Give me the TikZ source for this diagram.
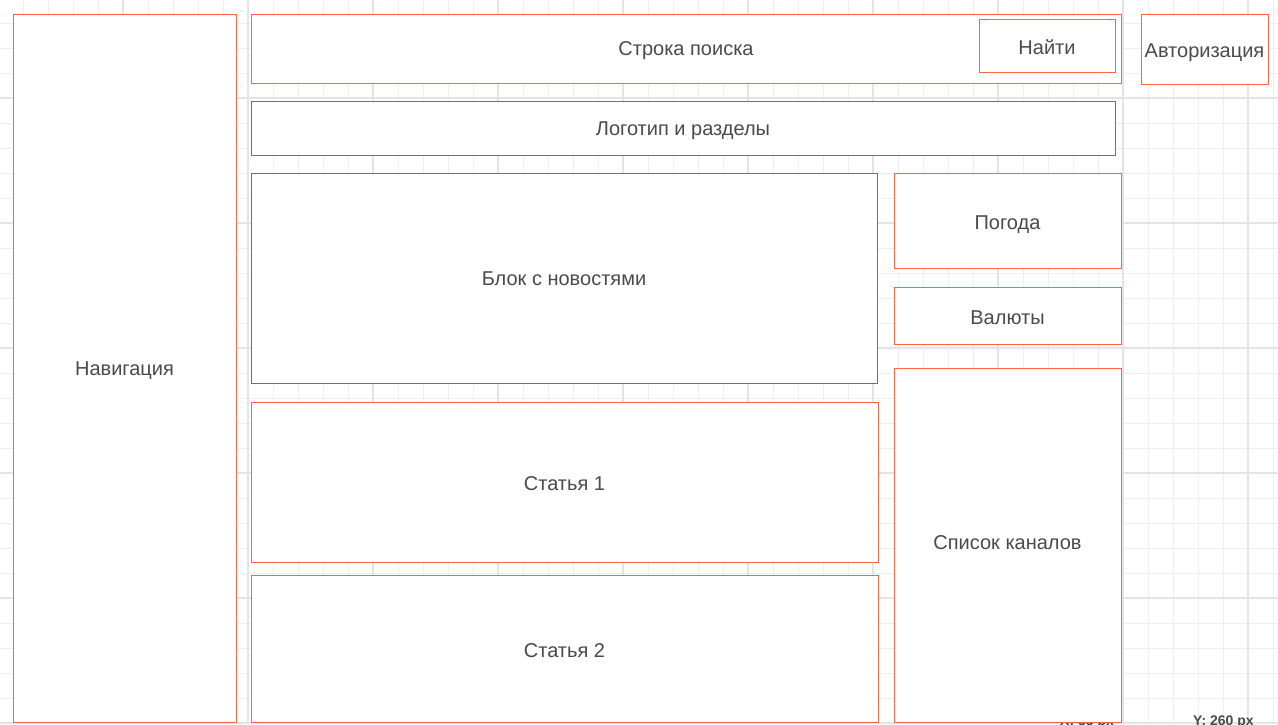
\documentclass[tikz,border=0pt]{standalone}
\usepackage{fontspec}
\setmainfont{Liberation Sans}
\definecolor{orng}{HTML}{FF6346}
\definecolor{gbord}{HTML}{707070}
\definecolor{txt}{HTML}{4A4A4A}
\definecolor{gminor}{HTML}{EEEEEE}
\definecolor{gmajor}{HTML}{E4E4E4}
\tikzset{
  box/.style={draw=orng, line width=1pt, fill=white},
  gbox/.style={draw=gbord, line width=0.8pt, fill=white},
  lbl/.style={text=txt, font=\fontsize{20pt}{23pt}\selectfont, inner sep=0pt, text height=14pt, text depth=0pt},
  stat/.style={anchor=north west, inner sep=0pt, text=txt, font=\bfseries\fontsize{14pt}{16pt}\selectfont},
}
\begin{document}
\begin{tikzpicture}[x=1pt,y=-1pt]
\useasboundingbox (0,0) rectangle (1278,724);
\fill[white] (0,0) rectangle (1278,724);
% grid
\foreach \i in {0,...,51} {
  \pgfmathsetmacro{\xx}{23+25*\i}
  \draw[gminor, line width=1pt] (\xx,0) -- (\xx,724);
}
\foreach \i in {0,...,28} {
  \pgfmathsetmacro{\yy}{23+25*\i}
  \draw[gminor, line width=1pt] (0,\yy) -- (1278,\yy);
}
\foreach \i in {0,...,10} {
  \pgfmathsetmacro{\xx}{123+125*\i}
  \draw[gmajor, line width=1.2pt] (\xx,0) -- (\xx,724);
}
\foreach \i in {0,...,5} {
  \pgfmathsetmacro{\yy}{98+125*\i}
  \draw[gmajor, line width=1.2pt] (0,\yy) -- (1278,\yy);
}
% status text at bottom (clipped, as in the reference)
\begin{scope}
\clip (0,0) rectangle (1278,724);
\node[stat] (sx) at (1060,716) {X: 33 px};
\node[stat] (sy) at (1193,716) {Y: 260 px};
\end{scope}
% boxes
\draw[box] (13,14) rectangle (236,722);
\node[lbl] (nav) at (124.5,368) {Навигация};
\draw[box] (251,14) rectangle (1121,83);
\node[lbl] (search) at (686,48) {Строка поиска};
\draw[box] (979,19) rectangle (1115,72);
\node[lbl] (find) at (1047,47) {Найти};
\draw[box] (1141,14) rectangle (1268,84);
\node[lbl] (auth) at (1204.5,50) {Авторизация};
\draw[gbox] (251,101) rectangle (1115,155);
\node[lbl] (logo) at (683,128) {Логотип и разделы};
\draw[gbox] (251,173) rectangle (877,383);
\node[lbl] (news) at (564,278) {Блок с новостями};
\draw[box] (894,173) rectangle (1121,268);
\node[lbl] (weather) at (1007.5,222) {Погода};
\draw[box] (894,287) rectangle (1121,344);
\node[lbl] (curr) at (1007.5,317) {Валюты};
\draw[box] (894,368) rectangle (1121,722);
\node[lbl] (chan) at (1007.5,542) {Список каналов};
\draw[box] (251,402) rectangle (878,562);
\node[lbl] (art1) at (564.5,483) {Статья 1};
\draw[box] (251,575) rectangle (878,722);
\node[lbl] (art2) at (564.5,650) {Статья 2};
\end{tikzpicture}
\end{document}
